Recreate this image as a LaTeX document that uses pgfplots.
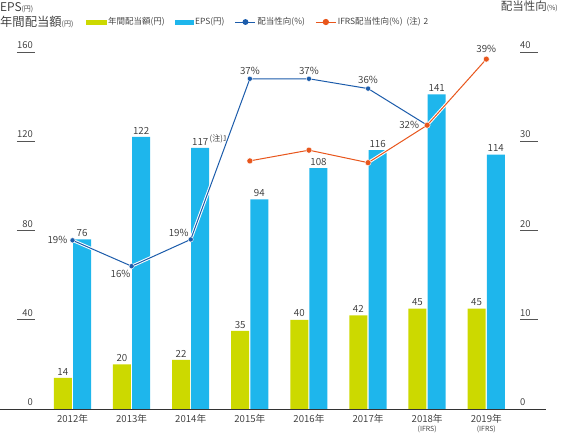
\documentclass[border=0pt]{standalone}
\usepackage{fontspec}
\setmainfont{Noto Sans CJK JP}[UprightFont={* DemiLight}, BoldFont={Noto Sans CJK JP}]
\usepackage{pgfplots}
\pgfplotsset{compat=1.18}
\definecolor{cgreen}{HTML}{CCD900}
\definecolor{cblue}{HTML}{1EB6EC}
\definecolor{lblue}{HTML}{1C5CAB}
\definecolor{lorange}{HTML}{E8561C}
\definecolor{txt}{HTML}{333333}
\definecolor{tk}{HTML}{555555}
\newcommand{\fs}[1]{\fontsize{#1}{#1}\selectfont}
\begin{document}
\begin{tikzpicture}
\useasboundingbox (0pt,-25pt) rectangle (567pt,409pt);
\begin{axis}[
  at={(0pt,0pt)}, anchor=south west, scale only axis,
  width=546pt, height=357pt,
  xmin=-1.227, xmax=8.01, ymin=0, ymax=160,
  clip=false,
  /pgf/number format/assume math mode=true,
  axis line style={draw=none}, tick style={draw=none},
  major tick length=0pt,
  xtick={0,...,7},
  xticklabels={2012年,2013年,2014年,2015年,2016年,2017年,{2018年\\[-1pt]{\fs{7}(IFRS)}},{2019年\\[-1pt]{\fs{7}(IFRS)}}},
  xticklabel style={font=\fs{9.7}, text=txt, align=center, anchor=north, inner sep=0pt, yshift=-5pt},
  ytick={0,40,80,120,160},
  yticklabel style={font=\fs{9.5}, text=txt, anchor=south east, inner sep=0pt, xshift=33pt, yshift=3pt},
  ybar, bar width=18pt,
  nodes near coords, point meta=explicit symbolic,
  every node near coord/.append style={font=\fs{9.8}, text=txt, inner sep=0pt, anchor=south, yshift=2.5pt},
]
\addplot[fill=cgreen, draw=none, bar shift=-9.7pt] coordinates {
  (0,14) [14] (1,20) [20] (2,22) [22] (3,35) [35] (4,40) [40] (5,42) [42] (6,45) [45] (7,45) [45]};
\addplot[fill=cblue, draw=none, bar shift=9.5pt] coordinates {
  (0,76) [76] (1,122) [122] (2,117) [{117\rlap{\raisebox{4pt}{\fs{8}\,(注)1}}}] (3,94) [94] (4,108) [108] (5,116) [116] (6,141) [141] (7,114) [114]};
\draw[txt, line width=0.9pt] (rel axis cs:0,0) -- (rel axis cs:1,0);
\pgfplotsinvokeforeach{40,80,120,160}{
  \draw[tk, line width=0.6pt] (rel axis cs:0.0311,#1/160) -- (rel axis cs:0.0641,#1/160);
}
\end{axis}
\begin{axis}[
  at={(0pt,0pt)}, anchor=south west, scale only axis,
  width=546pt, height=357pt,
  xmin=-1.227, xmax=8.01, ymin=0, ymax=40,
  clip=false,
  /pgf/number format/assume math mode=true,
  axis line style={draw=none}, tick style={draw=none},
  major tick length=0pt,
  xtick=\empty,
  ytick={0,10,20,30,40},
  yticklabel pos=right,
  yticklabel style={font=\fs{9.5}, text=txt, anchor=south west, inner sep=0pt, xshift=-26pt, yshift=3pt},
  legend style={draw=none, fill=none, at={(0.152,1.084)}, anchor=west,
    font=\fs{8.5}, text=txt, legend columns=-1,
    /tikz/every even column/.append style={column sep=9pt},
    nodes={inner sep=1.5pt}},
  legend cell align=left,
]
\addlegendimage{legend image code/.code={\fill[cgreen] (0pt,-2.3pt) rectangle (20pt,2.3pt);}}
\addlegendentry{年間配当額(円)}
\addlegendimage{legend image code/.code={\fill[cblue] (0pt,-2.3pt) rectangle (18pt,2.3pt);}}
\addlegendentry{EPS(円)}
\addplot[white, line width=3pt, forget plot] coordinates {
  (0,18.9) (1,16.0) (2,19.0) (3,37.0) (4,37.0) (5,35.9) (6,31.8)};
\addplot[lblue, line width=1pt, mark=*, mark size=2.6pt, mark options={fill=lblue, draw=white, line width=0.4pt},
  legend image code/.code={\draw[lblue, line width=1pt] (0pt,0pt) -- (20pt,0pt); \fill[lblue] (10pt,0pt) circle (2.4pt);}] coordinates {
  (0,18.9) (1,16.0) (2,19.0) (3,37.0) (4,37.0) (5,35.9) (6,31.8)};
\addlegendentry{配当性向(\%)}
\addplot[white, line width=3pt, forget plot] coordinates {
  (3,27.8) (4,29.0) (5,27.6) (6,31.8) (7,39.2)};
\addplot[lorange, line width=1pt, mark=*, mark size=3pt, mark options={fill=lorange, draw=white, line width=0.4pt},
  legend image code/.code={\draw[lorange, line width=1pt] (0pt,0pt) -- (20pt,0pt); \fill[lorange] (10pt,0pt) circle (2.6pt);}] coordinates {
  (3,27.8) (4,29.0) (5,27.6) (6,31.8) (7,39.2)};
\addlegendentry{IFRS配当性向(\%)\hspace{4pt}(注)\hspace{3pt}2}
\pgfplotsinvokeforeach{10,20,30,40}{
  \draw[tk, line width=0.6pt] (rel axis cs:0.9524,#1/40) -- (rel axis cs:0.9853,#1/40);
}
\begin{scope}[every node/.style={font=\fs{9.8}, text=txt, inner sep=0pt}]
\node[anchor=east] at ([xshift=-5pt]axis cs:0,18.9) {19\%};
\node[anchor=north east] at ([xshift=-1pt,yshift=-4pt]axis cs:1,16.0) {16\%};
\node[anchor=south east] at ([xshift=-2pt,yshift=3pt]axis cs:2,19.0) {19\%};
\node[anchor=south] at ([yshift=4pt]axis cs:3,37.0) {37\%};
\node[anchor=south] at ([yshift=4pt]axis cs:4,37.0) {37\%};
\node[anchor=south] at ([yshift=5pt]axis cs:5,35.9) {36\%};
\node[anchor=east] at ([xshift=-8pt]axis cs:6,31.8) {32\%};
\node[anchor=south] at ([yshift=6pt]axis cs:7,39.2) {39\%};
\end{scope}
\end{axis}
\node[anchor=base west, inner sep=0pt, text=txt, font=\fs{12}] at (0pt,397pt) {EPS{\fs{7}(円)}};
\node[anchor=base west, inner sep=0pt, text=txt, font=\fs{12.3}] at (0pt,382pt) {年間配当額{\fs{7}(円)}};
\node[anchor=base east, inner sep=0pt, text=txt, font=\fs{11.5}] at (558pt,398pt) {配当性向{\fs{7}(\%)}};
\end{tikzpicture}
\end{document}
